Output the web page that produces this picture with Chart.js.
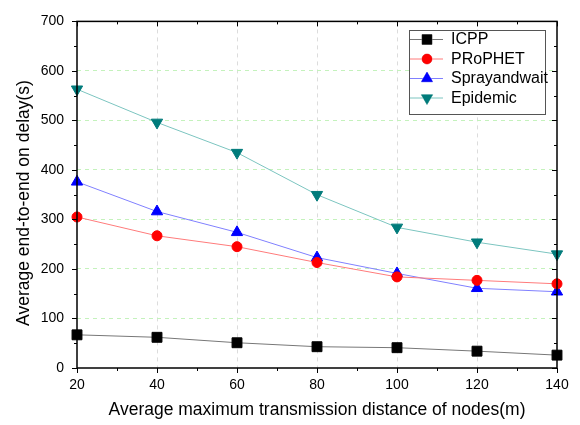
<!DOCTYPE html>
<html>
<head>
<meta charset="utf-8">
<script src="https://cdn.jsdelivr.net/npm/chart.js@4/dist/chart.umd.min.js"></script>
<style>
  html, body { margin: 0; padding: 0; background: #fff; }
  #wrap { width: 580px; height: 425px; }
</style>
</head>
<body>
<div id="wrap"><canvas id="myChart" width="580" height="425"></canvas></div>
<script>
"use strict";
const distances = [20, 40, 60, 80, 100, 120, 140];
const icpp = [67, 62, 51, 43, 41, 34, 26];
const prophet = [305, 267, 245, 213, 184, 177, 170];
const spray = [376, 316, 274, 223, 191, 161, 154];
const epidemic = [563, 496, 435, 350, 284, 254, 230];
const xTicks = [20, 40, 60, 80, 100, 120, 140];
const yTicks = [0, 100, 200, 300, 400, 500, 600, 700];

const FONT = "'Liberation Sans', Arial, sans-serif";
const yTitle = 'Average end-to-end on delay(s)';

function pts(vals) {
    return distances.map((d, i) => ({ x: d, y: vals[i] }));
}

// frame, tick marks (major + minor), y title and legend
const framePlugin = {
    id: 'frame',
    afterDatasetsDraw(chart) {
        const { ctx, chartArea: a, scales } = chart;
        const xs = scales.x, ys = scales.y;
        ctx.save();
        ctx.strokeStyle = '#000';
        ctx.lineWidth = 1.5;
        ctx.strokeRect(a.left, a.top, a.right - a.left, a.bottom - a.top);
        ctx.lineWidth = 1;
        ctx.beginPath();
        for (let v = 20; v <= 140; v += 10) {
            const px = Math.round(xs.getPixelForValue(v)) + 0.5;
            const len = (v % 20 === 0) ? 5 : 3;
            ctx.moveTo(px, a.bottom); ctx.lineTo(px, a.bottom + len);
            ctx.moveTo(px, a.top); ctx.lineTo(px, a.top + len);
        }
        for (let v = 0; v <= 700; v += 50) {
            const py = Math.round(ys.getPixelForValue(v)) + 0.5;
            const len = (v % 100 === 0) ? 5 : 3;
            ctx.moveTo(a.left, py); ctx.lineTo(a.left - len, py);
            ctx.moveTo(a.right, py); ctx.lineTo(a.right - len, py);
        }
        ctx.stroke();

        // y title
        ctx.save();
        ctx.translate(24, 203);
        ctx.rotate(-Math.PI / 2);
        ctx.font = '17.5px ' + FONT;
        ctx.fillStyle = '#000';
        ctx.textAlign = 'center';
        ctx.textBaseline = 'middle';
        ctx.fillText(yTitle, 0, 0);
        ctx.restore();

        // legend
        const lx = 409, ly = 30, lw = 136, lh = 84;
        ctx.fillStyle = '#fff';
        ctx.fillRect(lx, ly, lw, lh);
        ctx.strokeStyle = '#555';
        ctx.lineWidth = 1;
        ctx.strokeRect(lx + 0.5, ly + 0.5, lw, lh);
        ctx.font = '16px ' + FONT;
        ctx.textBaseline = 'middle';
        chart.data.datasets.forEach((ds, i) => {
            const cy = ly + 9 + i * 19.5;
            ctx.strokeStyle = ds.borderColor;
            ctx.lineWidth = 1;
            ctx.beginPath();
            ctx.moveTo(lx + 1, cy + 0.5); ctx.lineTo(lx + 34, cy + 0.5);
            ctx.stroke();
            Chart.helpers.drawPoint(ctx, {
                pointStyle: ds.pointStyle,
                radius: ds.pointRadius,
                rotation: ds.pointRotation || 0,
                borderWidth: 1
            }, lx + 18, cy + 0.5);
            ctx.fillStyle = ds.pointBackgroundColor;
            ctx.fill();
            ctx.fillStyle = '#000';
            ctx.fillText(ds.label, lx + 42, cy + 1);
        });
        ctx.restore();
    }
};

const ctx = document.getElementById('myChart');
const myChart = new Chart(ctx, {
    type: 'line',
    data: {
        datasets: [
            { label: 'ICPP', data: pts(icpp), borderColor: '#777777', pointStyle: 'rect', pointRadius: 7, pointBackgroundColor: '#000', pointBorderColor: '#000' },
            { label: 'PRoPHET', data: pts(prophet), borderColor: '#ff7b7b', pointStyle: 'circle', pointRadius: 5, pointBackgroundColor: '#ff0000', pointBorderColor: '#ff0000' },
            { label: 'Sprayandwait', data: pts(spray), borderColor: '#8080ff', pointStyle: 'triangle', pointRadius: 6.5, pointBackgroundColor: '#0000ff', pointBorderColor: '#0000ff' },
            { label: 'Epidemic', data: pts(epidemic), borderColor: '#7cc5c0', pointStyle: 'triangle', pointRotation: 180, pointRadius: 6.5, pointBackgroundColor: '#007b7b', pointBorderColor: '#007b7b' }
        ].map(d => Object.assign({ borderWidth: 1, pointBorderWidth: 1, fill: false, tension: 0, clip: false }, d))
    },
    options: {
        responsive: false,
        animation: false,
        layout: { padding: { top: 13, right: 23, left: 0, bottom: 0 } },
        plugins: { legend: { display: false }, tooltip: { enabled: false } },
        scales: {
            x: {
                type: 'linear', min: 20, max: 140,
                afterBuildTicks: s => { s.ticks = xTicks.map(v => ({ value: v })); },
                afterFit: s => { s.height = 57; },
                border: { display: false, dash: [4, 4] },
                grid: {
                    drawTicks: false,
                    color: c => (c.tick && (c.tick.value === 20 || c.tick.value === 140)) ? 'rgba(0,0,0,0)' : '#dcdcdc',
                    lineWidth: 1
                },
                ticks: { color: '#000', padding: 9, font: { family: FONT, size: 14 } },
                title: { display: true, text: 'Average maximum transmission distance of nodes(m)', color: '#000', font: { family: FONT, size: 17.5 }, padding: { top: 8 } }
            },
            y: {
                min: 0, max: 700,
                afterBuildTicks: s => { s.ticks = yTicks.map(v => ({ value: v })); },
                afterFit: s => { s.width = 77; },
                border: { display: false, dash: [4, 4] },
                grid: {
                    drawTicks: false,
                    color: c => (c.tick && (c.tick.value === 0 || c.tick.value === 700)) ? 'rgba(0,0,0,0)' : '#c4f2bc',
                    lineWidth: 1
                },
                ticks: { color: '#000', padding: 13, font: { family: FONT, size: 14 } },
                title: { display: false }
            }
        }
    },
    plugins: [framePlugin]
});
</script>
</body>
</html>
